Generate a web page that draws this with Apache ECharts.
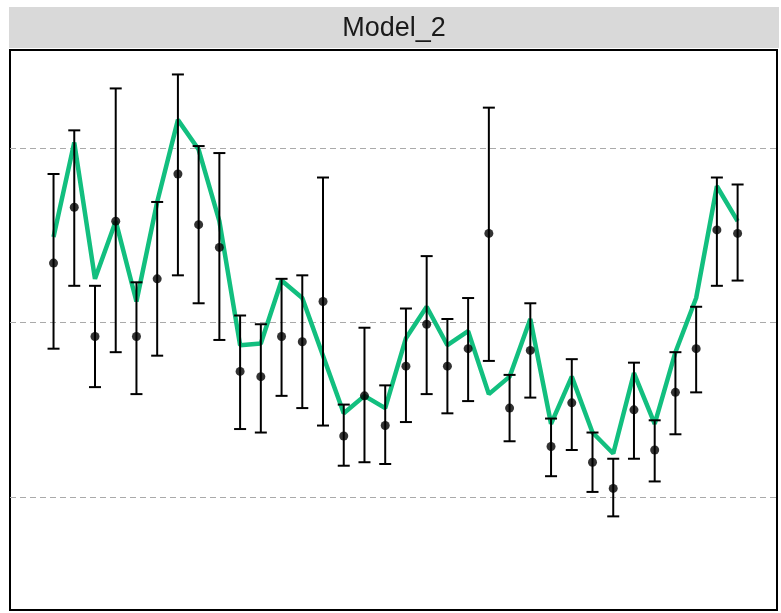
<!DOCTYPE html>
<html><head><meta charset="utf-8">
<script src="https://cdn.jsdelivr.net/npm/echarts@6/dist/echarts.min.js"></script>
<style>body{margin:0;background:#fff}#main{width:781px;height:613px}</style>
</head><body><div id="main"></div>
<script>
const pointY = [0.34,0.66,-0.08,0.58,-0.08,0.25,0.85,0.56,0.43,-0.28,-0.31,-0.08,-0.11,0.12,-0.65,-0.42,-0.59,-0.25,-0.01,-0.25,-0.15,0.51,-0.49,-0.16,-0.71,-0.46,-0.80,-0.95,-0.50,-0.73,-0.40,-0.15,0.53,0.51];
const upper = [0.85,1.10,0.21,1.34,0.23,0.69,1.42,1.01,0.97,0.04,-0.01,0.25,0.27,0.83,-0.47,-0.03,-0.36,0.08,0.38,0.02,0.14,1.23,-0.30,0.11,-0.55,-0.21,-0.63,-0.78,-0.23,-0.56,-0.17,0.09,0.83,0.79];
const lower = [-0.15,0.21,-0.37,-0.17,-0.41,-0.19,0.27,0.11,-0.10,-0.61,-0.63,-0.42,-0.49,-0.59,-0.82,-0.80,-0.81,-0.57,-0.41,-0.52,-0.45,-0.22,-0.68,-0.43,-0.88,-0.73,-0.97,-1.11,-0.78,-0.91,-0.64,-0.40,0.21,0.24];
const lineY = [0.49,1.03,0.25,0.58,0.12,0.69,1.16,0.99,0.58,-0.13,-0.12,0.24,0.14,-0.19,-0.52,-0.42,-0.49,-0.09,0.09,-0.13,-0.05,-0.41,-0.31,0.02,-0.58,-0.31,-0.63,-0.75,-0.29,-0.58,-0.17,0.14,0.78,0.58];
const gridValues = [-1, 0, 1];

const idx = pointY.map((_, i) => i + 1);
const chart = echarts.init(document.getElementById("main"));
chart.setOption({
  animation: false,
  grid: { left: 10, right: 4, top: 50, bottom: 3, show: true, borderColor: "#000", borderWidth: 2, backgroundColor: "#fff" },
  graphic: [
    { type: "rect", shape: { x: 9, y: 7, width: 770, height: 41 }, style: { fill: "#d9d9d9" } },
    { type: "text", x: 394, y: 29, style: { text: "Model_2", font: "27px 'Liberation Sans'", fill: "#1a1a1a", align: "center", verticalAlign: "middle" } }
  ],
  xAxis: { type: "value", min: -1.1, max: 35.9, show: false },
  yAxis: {
    type: "value", min: -1.646, max: 1.56,
    axisLabel: { show: false }, axisLine: { show: false }, axisTick: { show: false },
    splitLine: { show: false }
  },
  series: [
    {
      type: "custom", z: 3,
      renderItem: (params, api) => {
        const x = api.value(0);
        const top = api.coord([x, api.value(1)]);
        const bot = api.coord([x, api.value(2)]);
        const w = 6;
        const st = { stroke: "#000", lineWidth: 2 };
        return { type: "group", children: [
          { type: "line", shape: { x1: top[0], y1: top[1], x2: bot[0], y2: bot[1] }, style: st },
          { type: "line", shape: { x1: top[0] - w, y1: top[1], x2: top[0] + w, y2: top[1] }, style: st },
          { type: "line", shape: { x1: bot[0] - w, y1: bot[1], x2: bot[0] + w, y2: bot[1] }, style: st }
        ]};
      },
      data: idx.map((x, i) => [x, upper[i], lower[i]])
    },
    {
      type: "line", z: 2, data: idx.map((x, i) => [x, lineY[i]]), symbol: "none",
      lineStyle: { color: "#12bf7f", width: 4.5 },
      markLine: {
        silent: true, symbol: "none", label: { show: false }, z: 1,
        lineStyle: { type: [6, 4], color: "#aaa", width: 1 },
        data: gridValues.map(v => ({ yAxis: v }))
      }
    },
    {
      type: "scatter", z: 4, data: idx.map((x, i) => [x, pointY[i]]), symbolSize: 9,
      itemStyle: { color: "#000" }
    }
  ]
});
</script></body></html>
